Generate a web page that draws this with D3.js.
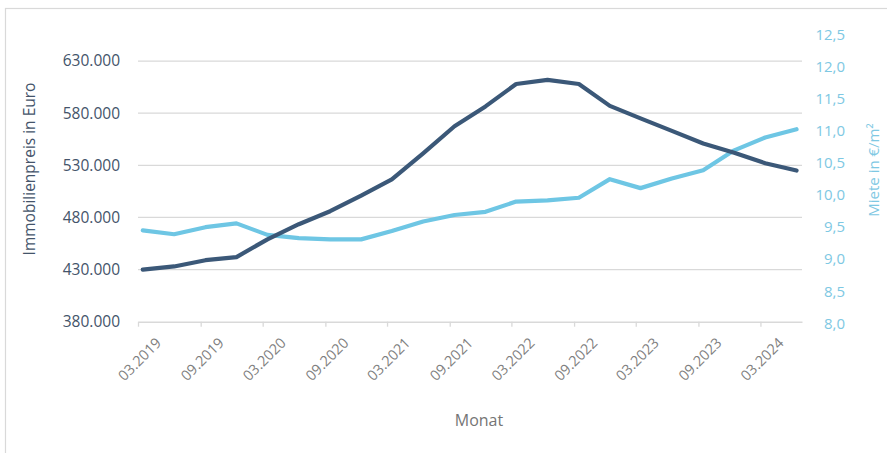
<!DOCTYPE html>
<html><head><meta charset="utf-8">
<script src="https://cdn.jsdelivr.net/npm/d3@7"></script>
<style>
html,body{margin:0;padding:0;background:#fff;}
svg{display:block;font-family:"Open Sans",sans-serif;}
</style></head>
<body><svg id="c" width="887" height="453"></svg>
<script>
const months = ["03.2019","06.2019","09.2019","12.2019","03.2020","06.2020","09.2020","12.2020",
  "03.2021","06.2021","09.2021","12.2021","03.2022","06.2022","09.2022","12.2022",
  "03.2023","06.2023","09.2023","12.2023","03.2024","06.2024"];
const preis = [430000,433000,439000,442000,459000,473500,486000,501000,516500,541500,567500,586500,
  608000,612000,608000,587000,575000,563000,551000,542000,532000,525000];
const miete = [9.45,9.39,9.50,9.56,9.38,9.33,9.31,9.31,9.44,9.59,9.69,9.74,
  9.90,9.92,9.96,10.25,10.11,10.26,10.39,10.70,10.90,11.03];
const xTickLabels = ["03.2019","09.2019","03.2020","09.2020","03.2021","09.2021","03.2022","09.2022","03.2023","09.2023","03.2024"];
const leftTicks = [380000,430000,480000,530000,580000,630000];
const rightTicks = [8.0,8.5,9.0,9.5,10.0,10.5,11.0,11.5,12.0,12.5];

const svg = d3.select("#c");
const parseM = s => { const [m,y] = s.split("."); return new Date(+y, +m-1, 1); };
const midM = s => { const [m,y] = s.split("."); return new Date(+y, +m-1, 15); };

const x = d3.scaleTime().domain([new Date(2019,2,1), new Date(2024,6,1)]).range([138, 802]);
const yL = d3.scaleLinear().domain([380000, 655000]).range([321.7, 35]);
const yR = d3.scaleLinear().domain([8, 12.5]).range([323.3, 35]);

// frame
svg.append("rect").attr("x",5.5).attr("y",8.5).attr("width",900).attr("height",460)
  .attr("fill","none").attr("stroke","#d9d9d9").attr("stroke-width",1.2);

// gridlines
svg.append("g").selectAll("line").data(leftTicks.slice(1)).join("line")
  .attr("x1",138).attr("x2",802).attr("y1",d=>yL(d)).attr("y2",d=>yL(d))
  .attr("stroke","#d9d9d9").attr("stroke-width",1.3);

// x axis
const xa = svg.append("g").attr("transform",`translate(0,${yL(380000)})`)
  .call(d3.axisBottom(x).tickValues(xTickLabels.map(parseM)).tickSize(5).tickSizeOuter(0).tickFormat(""));
xa.select(".domain").attr("stroke","#d9d9d9").attr("stroke-width",1.5);
xa.selectAll(".tick line").attr("stroke","#d9d9d9").attr("stroke-width",1.3);

svg.append("g").selectAll("text").data(xTickLabels).join("text")
  .attr("transform",d=>`translate(${x(parseM(d))+17},${yL(380000)+15}) rotate(-45)`)
  .attr("text-anchor","end").attr("dy","0.7em")
  .attr("font-size",14.5).attr("fill","#7f7f7f").text(d=>d);

// left axis labels
const fmtL = d => d3.format(",")(d).replace(/,/g,".");
svg.append("g").selectAll("text").data(leftTicks).join("text")
  .attr("x",120).attr("y",d=>yL(d)).attr("dy","0.35em").attr("text-anchor","end")
  .attr("font-size",15.5).attr("fill","#44546a").text(fmtL);

// right axis labels
svg.append("g").selectAll("text").data(rightTicks).join("text")
  .attr("x",845).attr("y",d=>yR(d)).attr("dy","0.35em").attr("text-anchor","end")
  .attr("font-size",15).attr("fill","#7ec8e3").text(d=>d.toFixed(1).replace(".",","));

// axis titles
svg.append("text").attr("transform","translate(35,169) rotate(-90)").attr("text-anchor","middle")
  .attr("font-size",15.5).attr("fill","#44546a").text("Immobilienpreis in Euro");
svg.append("text").attr("transform","translate(879,170) rotate(-90)").attr("text-anchor","middle")
  .attr("font-size",15).attr("fill","#7ec8e3").text("Miete in €/m²");
svg.append("text").attr("x",479).attr("y",426).attr("text-anchor","middle")
  .attr("font-size",16).attr("fill","#757575").text("Monat");

// lines
const dPreis = months.map((m,i)=>({d:midM(m), v:preis[i]}));
const dMiete = months.map((m,i)=>({d:midM(m), v:miete[i]}));
svg.append("path").datum(dMiete)
  .attr("d", d3.line().x(d=>x(d.d)).y(d=>yR(d.v)))
  .attr("fill","none").attr("stroke","#6ec6e4").attr("stroke-width",4.2)
  .attr("stroke-linejoin","round").attr("stroke-linecap","round");
svg.append("path").datum(dPreis)
  .attr("d", d3.line().x(d=>x(d.d)).y(d=>yL(d.v)))
  .attr("fill","none").attr("stroke","#3b5878").attr("stroke-width",4.2)
  .attr("stroke-linejoin","round").attr("stroke-linecap","round");
</script></body></html>
